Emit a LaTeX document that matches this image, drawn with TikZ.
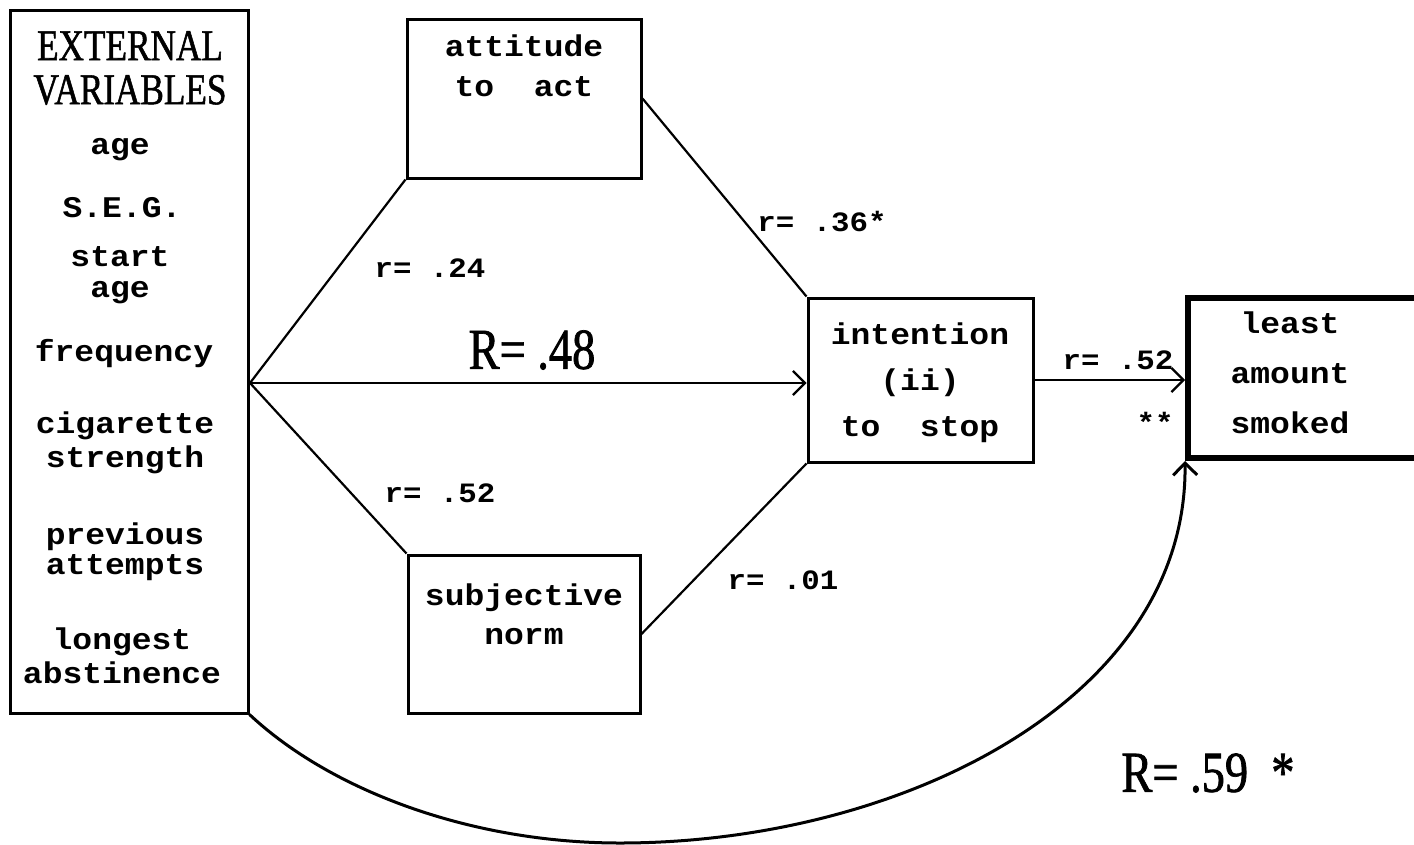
\documentclass[tikz,border=0pt]{standalone}
\usepackage{fontspec}
\usepackage{tikz}
\usetikzlibrary{positioning,arrows.meta}
\newfontfamily\boxfont{Liberation Mono}[FakeStretch=1.1]
\newfontfamily\headfont{Liberation Serif}[FakeStretch=0.8, FakeBold=1.2]
\definecolor{ink}{HTML}{000000}

\begin{document}
\begin{tikzpicture}[
    x=1pt, y=-1pt,
    every node/.style={text=ink},
    frame/.style={draw=ink, line width=3pt, inner sep=0pt},
    item/.style={font=\boxfont\bfseries\fontsize{30}{34}\selectfont, align=center,
                 inner sep=1pt},
    coef/.style={font=\boxfont\bfseries\fontsize{28}{32}\selectfont, inner sep=1pt},
    bigcoef/.style={font=\headfont\fontsize{58}{62}\selectfont, inner sep=1pt},
    link/.style={draw=ink, line width=2.2pt},
    arr/.style={link, -{Straight Barb[length=12pt, width=24pt]}},
  ]
  \useasboundingbox (0,0) rectangle (1414,844);
  \clip (0,0) rectangle (1414,844);

  % the boxes
  \node[frame, minimum width=238, minimum height=703] (ext) at (129,361.5) {};
  \node[frame, minimum width=234, minimum height=159] (att) at (524,98.5) {};
  \node[frame, minimum width=232, minimum height=158] (subj) at (524,634) {};
  \node[frame, minimum width=225, minimum height=164] (intn) at (920.5,380) {};
  \node[frame, line width=6pt, minimum width=242, minimum height=160] (least) at (1309,378) {};

  % external variables
  \node[font=\headfont\fontsize{44}{44}\selectfont, align=center, inner sep=0pt] (head)
        at (130,68) {EXTERNAL\\VARIABLES};
  \node[item] (age) at (120,150) {age};
  \node[item] (seg) at (122,208) {S.E.G.};
  \node[item, font=\boxfont\bfseries\fontsize{30}{31}\selectfont] (start) at (120,275) {start\\age};
  \node[item] (freq) at (124,354) {frequency};
  \node[item] (cig) at (125,443) {cigarette\\strength};
  \node[item, font=\boxfont\bfseries\fontsize{30}{30}\selectfont] (prev) at (125,552) {previous\\attempts};
  \node[item] (long) at (122,656) {longest\\abstinence};

  % texts of the other boxes
  \node[item, font=\boxfont\bfseries\fontsize{30}{40}\selectfont] (atttxt) at (524,66) {attitude\\to~ act};
  \node[item, font=\boxfont\bfseries\fontsize{30}{39}\selectfont] (subjtxt) at (524,614) {subjective\\norm};
  \node[item, font=\boxfont\bfseries\fontsize{30}{46}\selectfont] (intntxt) at (920,383) {intention\\(ii)\\to~ stop};
  \node[item, font=\boxfont\bfseries\fontsize{30}{50}\selectfont] (leasttxt) at (1290,373) {least\\amount\\smoked};

  % connectors
  \coordinate (hub) at (250,383);
  \draw[link] (hub) -- (att.south west);
  \draw[link] (hub) -- (subj.north west);
  \draw[arr] (hub) -- (hub -| intn.west);
  \draw[link] (att.east) -- (intn.north west);
  \draw[link] (subj.east) -- (intn.south west);
  \draw[arr] (intn.east) -- (intn.east -| least.west);
  \draw[arr, line width=3pt] (ext.south east) .. controls (330,790) and (470,843) .. (620,843)
        .. controls (900,843) and (1188,700) .. (least.south west);

  % coefficients
  \node[coef] (r24) at (430,268) {r= .24};
  \node[coef] (r36) at (822,222) {r= .36*};
  \node[bigcoef] (R48) at (532,350) {R= .48};
  \node[coef] (r52a) at (440,493) {r= .52};
  \node[coef] (r01) at (783,580) {r= .01};
  \node[coef] (r52b) at (1118,360) {r= .52};
  \node[coef] (sig) at (1155,422) {**};
  \node[bigcoef] (R59) at (1208,773) {R= .59\ \ *};
\end{tikzpicture}
\end{document}
